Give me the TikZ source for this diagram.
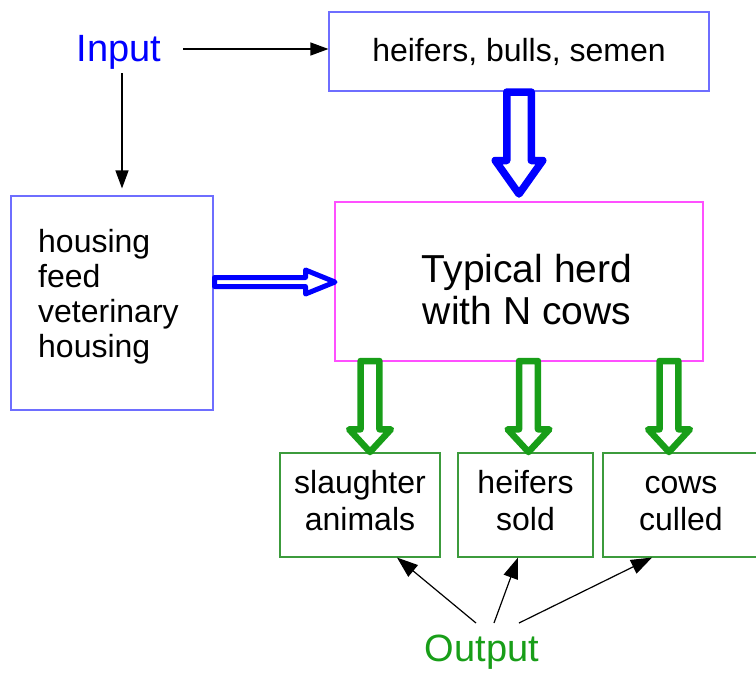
\documentclass[tikz,border=0pt]{standalone}
\usepackage{fontspec}
\setmainfont{Liberation Sans}
\usetikzlibrary{arrows.meta}
\definecolor{inblue}{RGB}{0,0,255}
\definecolor{boxblue}{RGB}{110,110,255}
\definecolor{herdmag}{RGB}{255,80,255}
\definecolor{outgreen}{RGB}{24,158,24}
\definecolor{boxgreen}{RGB}{60,155,60}
% hollow block arrows: style, centre, start, head base, tip, shaft half width, head half width
\newcommand\myHollowDown[7]{\draw[#1] (#2-#6,#3) -- (#2-#6,#4) -- (#2-#7,#4) -- (#2,#5) -- (#2+#7,#4) -- (#2+#6,#4) -- (#2+#6,#3) -- cycle;}
\newcommand\myHollowRight[7]{\draw[#1] (#3,#2-#6) -- (#4,#2-#6) -- (#4,#2-#7) -- (#5,#2) -- (#4,#2+#7) -- (#4,#2+#6) -- (#3,#2+#6) -- cycle;}
\begin{document}
\begin{tikzpicture}[x={(1pt,0pt)},y={(0pt,-1pt)},
  bluebox/.style={draw=boxblue, line width=1.1pt, inner sep=0pt},
  magbox/.style={draw=herdmag, line width=1.1pt, inner sep=0pt},
  greenbox/.style={draw=boxgreen, line width=1.1pt, inner sep=0pt, align=center,
    font=\fontsize{32}{37}\selectfont, minimum height=104pt},
  txt/.style={inner sep=0pt, font=\fontsize{32}{35}\selectfont},
  arr/.style={-{Triangle[length=18pt,width=13pt]}, line width=1.2pt, black},
  outarr/.style={-{Triangle[length=21pt,width=15pt]}, line width=1.2pt, black},
  blueblock/.style={draw=inblue, fill=white, line join=round},
  greenblock/.style={draw=outgreen, fill=white, line join=round, line width=6.5pt}]
\useasboundingbox (0,0) rectangle (756,673);

% Input side
\node[inner sep=0pt, anchor=base, text=inblue, font=\fontsize{38}{44}\selectfont] (input) at (119,61) {Input};
\node[bluebox, minimum width=380pt, minimum height=79pt, text height=24pt, text depth=4pt,
  font=\fontsize{32}{38}\selectfont] (hbs) at (519,51.5) {heifers, bulls, semen};
\node[bluebox, minimum width=202pt, minimum height=214pt] (lb) at (112,303) {};
\node[txt, anchor=west, align=left] (lbtext) at (38,297.5)
  {\strut housing\\\strut feed\\\strut veterinary\\\strut housing};

% herd
\node[magbox, minimum width=368pt, minimum height=159pt] (herd) at (519,281.5) {};
\node[inner sep=0pt, align=center, font=\fontsize{39}{42}\selectfont] (herdtext) at (527,294.6)
  {\strut Typical herd\\\strut with N cows};

% outputs
\node[greenbox, minimum width=160pt] (b1) at (360,505) {\strut slaughter\\\strut animals};
\node[greenbox, minimum width=135pt] (b2) at (525.5,505) {\strut heifers\\\strut sold};
\node[greenbox, minimum width=156pt] (b3) at (681,505) {\strut cows\\\strut culled};
\node[inner sep=0pt, anchor=base, text=outgreen, font=\fontsize{38}{44}\selectfont] (output) at (482,661) {Output};

% thin arrows
\coordinate (inR) at (183,49);
\coordinate (inB) at (122,73);
\draw[arr] (inR) -- (inR -| hbs.west);
\draw[arr, shorten >=7pt] (inB) -- (inB |- lb.north);

\coordinate (o1) at (476,623);
\coordinate (o2) at (494,623);
\coordinate (o3) at (519,623);
\draw[outarr] (o1) -- ([xshift=37pt]b1.south);
\draw[outarr] (o2) -- ([xshift=-7.5pt]b2.south);
\draw[outarr] (o3) -- ([xshift=-29pt]b3.south);

% hollow block arrows
\myHollowDown{blueblock, line width=7.5pt}{519}{92}{160.5}{194}{12.25}{23.75}
\myHollowRight{blueblock, line width=5pt}{282}{214.5}{305.5}{335}{4.5}{12}
\myHollowDown{greenblock}{370}{361}{429.3}{452}{9.45}{20.9}
\myHollowDown{greenblock}{528.5}{361}{429.3}{452}{9.45}{20.9}
\myHollowDown{greenblock}{669}{361}{429.3}{452}{9.45}{20.9}
\end{tikzpicture}
\end{document}
